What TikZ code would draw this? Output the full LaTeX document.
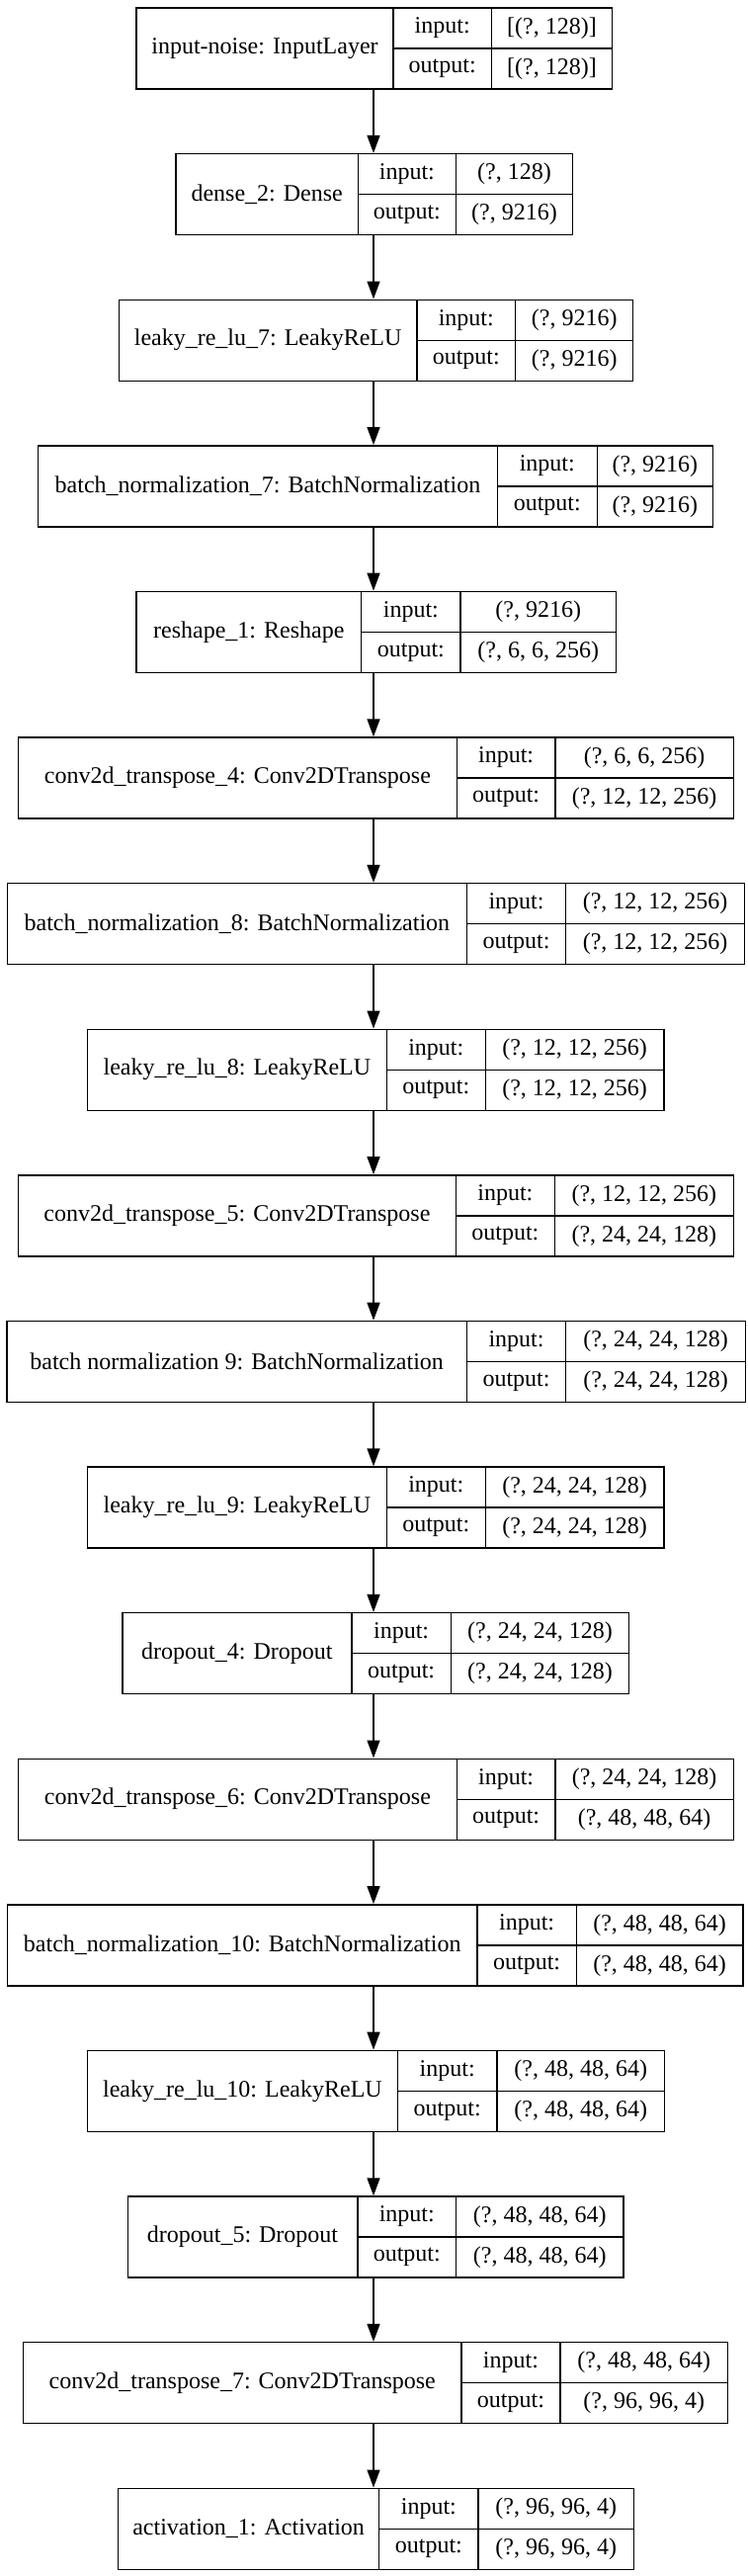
\documentclass[tikz,border=0pt]{standalone}
\usepackage{fontspec}
\setmainfont{Liberation Serif}
\usetikzlibrary{arrows.meta,positioning}

\begin{document}
\begin{tikzpicture}[x=1pt, y=-1pt,
  cell/.style={rectangle, draw=black, line width=1.4pt, inner sep=0pt, anchor=north west,
    font=\fontsize{24}{28}\selectfont},
  arr/.style={-{Triangle[length=18pt, width=13pt]}, line width=1.4pt}
]
\useasboundingbox (0,0) rectangle (756,2606);
\coordinate (axis) at (378,0);

% layer records: index / left / key column / value column / right / name / input / output
\foreach \i/\l/\a/\b/\r/\name/\vin/\vout in {
  0/137.3/397.3/496.7/619/{input-noise: InputLayer}/{[(?, 128)]}/{[(?, 128)]},
  1/177.3/361.7/460.7/579/{dense\_2: Dense}/{(?, 128)}/{(?, 9216)},
  2/119.7/421.2/521/640/{leaky\_re\_lu\_7: LeakyReLU}/{(?, 9216)}/{(?, 9216)},
  3/37.8/502.7/603.5/720.8/{batch\_normalization\_7: BatchNormalization}/{(?, 9216)}/{(?, 9216)},
  4/137.2/365/465.3/622.9/{reshape\_1: Reshape}/{(?, 9216)}/{(?, 6, 6, 256)},
  5/17.9/461.5/561.3/741.6/{conv2d\_transpose\_4: Conv2DTranspose}/{(?, 6, 6, 256)}/{(?, 12, 12, 256)},
  6/6.8/471.6/572/752.8/{batch\_normalization\_8: BatchNormalization}/{(?, 12, 12, 256)}/{(?, 12, 12, 256)},
  7/87.7/390.7/490.5/671.4/{leaky\_re\_lu\_8: LeakyReLU}/{(?, 12, 12, 256)}/{(?, 12, 12, 256)},
  8/17.9/460.5/560.8/741.6/{conv2d\_transpose\_5: Conv2DTranspose}/{(?, 12, 12, 256)}/{(?, 24, 24, 128)},
  9/6.3/471.6/572/753.8/{batch normalization 9: BatchNormalization}/{(?, 24, 24, 128)}/{(?, 24, 24, 128)},
  10/87.7/390.7/490.5/671.4/{leaky\_re\_lu\_9: LeakyReLU}/{(?, 24, 24, 128)}/{(?, 24, 24, 128)},
  11/123.1/355.3/455.6/636/{dropout\_4: Dropout}/{(?, 24, 24, 128)}/{(?, 24, 24, 128)},
  12/17.9/461.5/561.3/741.6/{conv2d\_transpose\_6: Conv2DTranspose}/{(?, 24, 24, 128)}/{(?, 48, 48, 64)},
  13/6.8/482.3/582.6/751.3/{batch\_normalization\_10: BatchNormalization}/{(?, 48, 48, 64)}/{(?, 48, 48, 64)},
  14/87.7/401.8/502.2/671.8/{leaky\_re\_lu\_10: LeakyReLU}/{(?, 48, 48, 64)}/{(?, 48, 48, 64)},
  15/128.5/361.1/461/630.2/{dropout\_5: Dropout}/{(?, 48, 48, 64)}/{(?, 48, 48, 64)},
  16/22.8/466.3/566.2/735.8/{conv2d\_transpose\_7: Conv2DTranspose}/{(?, 48, 48, 64)}/{(?, 96, 96, 4)},
  17/118.8/383/483.3/640.8/{activation\_1: Activation}/{(?, 96, 96, 4)}/{(?, 96, 96, 4)}} {
  \pgfmathsetmacro\t{7.3+147.6*\i}
  \pgfmathsetmacro\tm{\t+41}
  \pgfmathsetmacro\wn{\a-\l}
  \pgfmathsetmacro\wk{\b-\a}
  \pgfmathsetmacro\wv{\r-\b}
  \node[cell, minimum width=\wn, minimum height=82] (L\i) at (\l,\t) {\name};
  \node[cell, minimum width=\wk, minimum height=41] (L\i-ik) at (\a,\t) {input:};
  \node[cell, minimum width=\wk, minimum height=41] (L\i-ok) at (\a,\tm) {output:};
  \node[cell, minimum width=\wv, minimum height=41] (L\i-iv) at (\b,\t) {\vin};
  \node[cell, minimum width=\wv, minimum height=41] (L\i-ov) at (\b,\tm) {\vout};
}

\foreach \i [evaluate=\i as \j using int(\i+1)] in {0,...,16}
  \draw[arr] (L\i.south -| axis) -- (L\j.north -| axis);
\end{tikzpicture}
\end{document}
